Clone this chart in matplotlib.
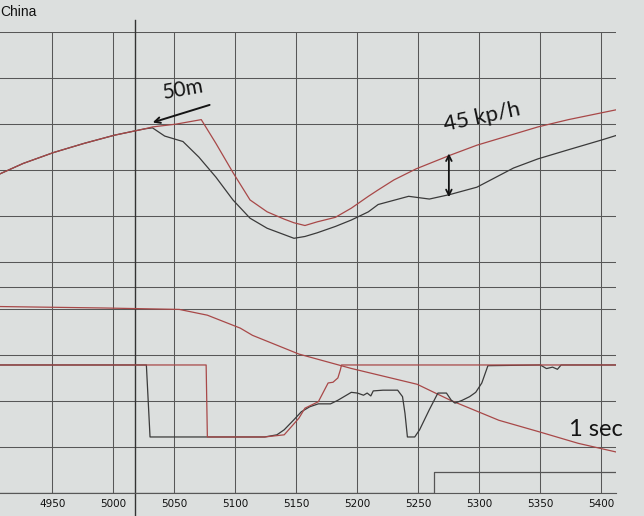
import matplotlib
matplotlib.use("Agg")
import matplotlib.pyplot as plt

# lap distance (m) / speed (km/h) - red = reference lap, black = compared lap
dist_red = [4901, 4926, 4951, 4976, 5001, 5026, 5032, 5051, 5072, 5084, 5098, 5112, 5126,
            5140, 5148, 5157, 5167, 5182, 5195, 5209, 5217, 5230, 5248, 5276, 5298, 5348,
            5373, 5413]
speed_red = [141, 156, 168, 178, 187, 194, 196, 199, 204, 178, 146, 116, 103,
             95, 91, 88, 92, 97, 107, 120, 127, 138, 150, 165, 176, 196,
             204, 215]

dist_blk = [4901, 4926, 4951, 4976, 5001, 5026, 5032, 5042, 5057, 5070, 5084, 5098, 5112,
            5126, 5140, 5148, 5157, 5167, 5182, 5195, 5209, 5217, 5242, 5259, 5276, 5298,
            5328, 5348, 5373, 5401, 5413]
speed_blk = [141, 156, 168, 178, 187, 194, 195, 186, 180, 163, 141, 116, 96,
             85, 78, 74, 76, 80, 87, 94, 103, 111, 120, 117, 122, 130,
             151, 161, 171, 182, 187]

# time delta (s)
dist_delta = [4907, 4992, 5054, 5077, 5104, 5114, 5152, 5195, 5249, 5276, 5316, 5349, 5381, 5412]
delta = [0.01, 0.0, -0.01, -0.05, -0.14, -0.19, -0.32, -0.42, -0.53, -0.64, -0.78, -0.86, -0.94, -1.0]

# throttle (%)
dist_thr_red = [4907, 5076, 5077, 5124, 5140, 5152, 5157, 5168, 5176, 5180, 5184, 5186, 5187, 5412]
thr_red = [100, 100, 0, 0, 3, 26, 40, 49, 75, 76, 82, 93, 100, 100]

dist_thr_blk = [4907, 5027, 5030, 5124, 5134, 5140, 5148, 5154, 5161, 5168, 5178, 5184, 5195,
                5200, 5205, 5208, 5211, 5213, 5221, 5233, 5237, 5239, 5241, 5247, 5251, 5259,
                5266, 5273, 5277, 5280, 5286, 5292, 5297, 5302, 5307, 5350, 5355, 5360, 5364,
                5367, 5412]
thr_blk = [100, 100, 0, 0, 3, 10, 24, 35, 42, 46, 46, 51, 62,
           61, 58, 61, 57, 64, 65, 65, 56, 33, 0, 0, 10, 38,
           61, 61, 51, 47, 51, 56, 62, 75, 99, 100, 95, 97, 94,
           100, 100]

# beacon channel
dist_mark = [4907, 5263, 5412]
mark = [0, 1, 1]

xticks = list(range(4950, 5401, 50))

bg = "#dcdfde"
red = "#a84848"
blk = "#3a3a3a"
grid = "#575757"
ink = "#141414"
hand = ["Lato", "DejaVu Sans"]

fig = plt.figure(figsize=(6.44, 5.16), dpi=100, facecolor=bg)
pos = [0, 0.0446, 0.9565, 0.8934]

ax = fig.add_axes(pos)
ax.set_facecolor(bg)
ax.set_xlim(4907, 5412)
ax.set_ylim(0, 10)
ax.set_xticks(xticks)
ax.set_yticks(range(11))
ax.grid(True, color=grid, lw=0.75)
ax.axhline(4.47, color=grid, lw=0.75)
ax.tick_params(axis="y", left=False, labelleft=False)
ax.tick_params(axis="x", length=0, pad=4, labelsize=7.5, labelcolor="#111")
for lab in ax.get_xticklabels():
    lab.set_family(["Liberation Sans Narrow", "DejaVu Sans"])
for s in ["top", "left", "right"]:
    ax.spines[s].set_visible(False)
ax.spines["bottom"].set_color(grid)


def overlay(lo, hi):
    a = fig.add_axes(pos, sharex=ax)
    a.set_ylim(lo, hi)
    a.axis("off")
    a.patch.set_visible(False)
    return a


ax_spd = overlay(-205, 300)
ax_spd.plot(dist_blk, speed_blk, color=blk, lw=0.9)
ax_spd.plot(dist_red, speed_red, color=red, lw=0.9)

ax_dt = overlay(-1.285, 1.917)
ax_dt.plot(dist_delta, delta, color=red, lw=0.9)

ax_thr = overlay(-77.8, 562.5)
ax_thr.plot(dist_thr_blk, thr_blk, color=blk, lw=0.9)
ax_thr.plot(dist_thr_red, thr_red, color=red, lw=0.9)

ax_mk = overlay(0, 21.95)
ax_mk.plot(dist_mark, mark, color="#555", lw=0.9, drawstyle="steps-post")

# cursor
ax.axvline(5018, ymin=-0.05, ymax=1.026, color="#333", lw=1.0, clip_on=False)

# handwritten notes
ax_spd.text(5057, 237, "50m", fontsize=15, family=hand, color=ink,
            rotation=10, ha="center", va="center")
ax_spd.annotate("", xy=(5030, 200), xytext=(5081, 221),
                arrowprops=dict(arrowstyle="->", color=ink, lw=1.4))
ax_spd.text(5302, 207, "45 kp/h", fontsize=16, family=hand, color=ink,
            rotation=12, ha="center", va="center")
ax_spd.annotate("", xy=(5275, 170), xytext=(5275, 116),
                arrowprops=dict(arrowstyle="<->", color=ink, lw=1.3))
fig.text(596 / 644, 1 - 430 / 516, "1 sec", fontsize=17, family=hand, color=ink,
         ha="center", va="center")

fig.text(0.0, 1 - 12 / 516, "China", fontsize=10, family=["Liberation Sans", "DejaVu Sans"],
         ha="left", va="center", color="#111")

fig.savefig("out.png", dpi=100, facecolor=bg)
